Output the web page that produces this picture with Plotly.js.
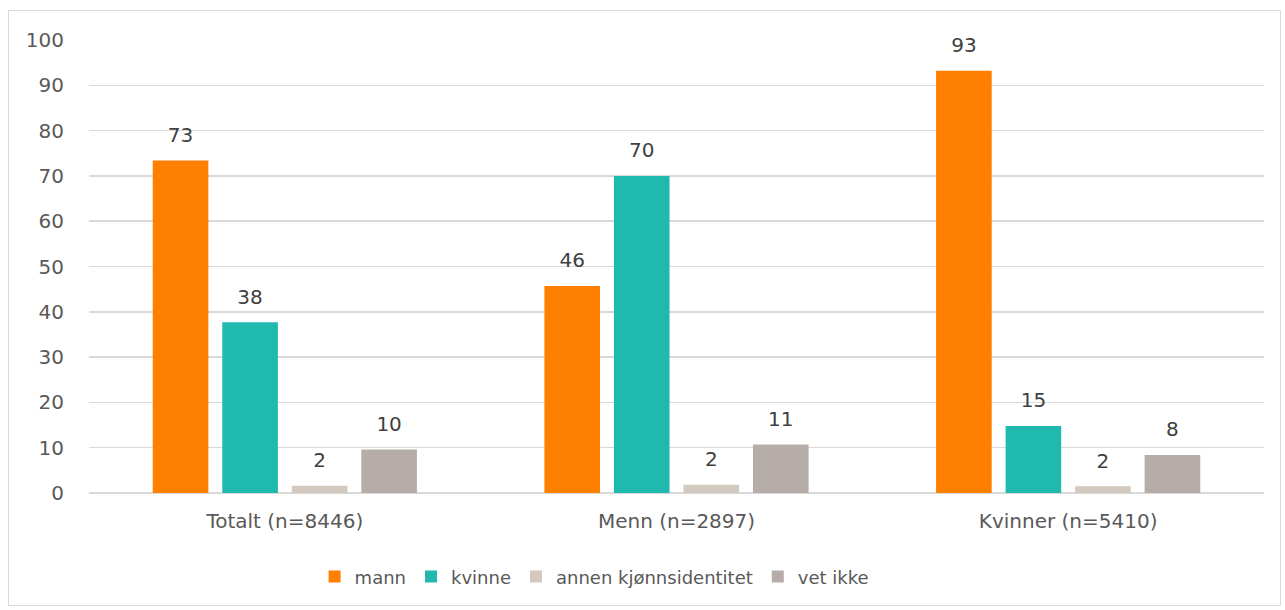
<!DOCTYPE html>
<html>
<head>
<meta charset="utf-8">
<script src="https://cdn.plot.ly/plotly-3.0.1.min.js"></script>
<style>
  html, body { margin: 0; padding: 0; background: #fff; }
  #wrap { position: relative; width: 1285px; height: 610px; }
  #chart { width: 1285px; height: 610px; }
  #frame { position: absolute; left: 8px; top: 10px; width: 1273px; height: 596px;
           border: 1.5px solid #d9d9d9; pointer-events: none; box-sizing: border-box; }
</style>
</head>
<body>
<div id="wrap">
  <div id="chart"></div>
  <div id="frame"></div>
</div>
<script>
const categories = ["Totalt (n=8446)", "Menn (n=2897)", "Kvinner (n=5410)"];
const seriesNames = ["mann", "kvinne", "annen kjønnsidentitet", "vet ikke"];
const mann = [73.4, 45.7, 93.2];
const kvinne = [37.7, 70.0, 14.8];
const annen = [1.6, 1.8, 1.5];
const vetIkke = [9.6, 10.7, 8.4];
const labelsMann = ["73", "46", "93"];
const labelsKvinne = ["38", "70", "15"];
const labelsAnnen = ["2", "2", "2"];
const labelsVetIkke = ["10", "11", "8"];
const yTicks = [0, 10, 20, 30, 40, 50, 60, 70, 80, 90, 100];

const colors = ["#FF7F00", "#20B9AD", "#D3C9BE", "#B6ADA8"];
const values = [mann, kvinne, annen, vetIkke];
const labels = [labelsMann, labelsKvinne, labelsAnnen, labelsVetIkke];
const FONT = "'DejaVu Sans', sans-serif";
const GAP = 0.29;

const barTraces = seriesNames.map((name, i) => ({
  type: "bar",
  name: name,
  x: categories,
  y: values[i],
  offsetgroup: String(i),
  marker: { color: colors[i], line: { width: 0 } },
  hoverinfo: "x+y+name"
}));

const labelTraces = seriesNames.map((name, i) => ({
  type: "scatter",
  mode: "markers+text",
  name: name + " label",
  showlegend: false,
  x: categories,
  y: values[i],
  offsetgroup: String(i),
  text: labels[i],
  textposition: "top center",
  cliponaxis: false,
  textfont: { family: FONT, size: 20, color: "#404040" },
  marker: { size: 20, color: "rgba(0,0,0,0)" },
  hoverinfo: "skip"
}));

const layout = {
  width: 1285,
  height: 610,
  margin: { l: 88.5, r: 20.5, t: 40, b: 117 },
  paper_bgcolor: "#ffffff",
  plot_bgcolor: "#ffffff",
  barmode: "group",
  bargap: GAP,
  bargroupgap: 0.2,
  scattermode: "group",
  scattergap: GAP,
  font: { family: FONT, size: 20, color: "#595959" },
  xaxis: {
    type: "category",
    showgrid: false,
    zeroline: false,
    showline: false,
    ticks: "outside",
    ticklen: 10,
    tickcolor: "rgba(0,0,0,0)",
    tickfont: { family: FONT, size: 20, color: "#595959" }
  },
  yaxis: {
    range: [0, 100],
    tickvals: yTicks,
    ticktext: yTicks.map(String),
    showgrid: true,
    gridcolor: "#d9d9d9",
    gridwidth: 1.5,
    zeroline: true,
    zerolinecolor: "#d9d9d9",
    zerolinewidth: 1.5,
    showline: false,
    ticks: "outside",
    ticklen: 20,
    tickcolor: "rgba(0,0,0,0)",
    tickfont: { family: FONT, size: 20, color: "#595959" },
    fixedrange: true
  },
  legend: {
    orientation: "h",
    x: 0.192,
    xanchor: "left",
    y: -0.185,
    yanchor: "middle",
    font: { family: FONT, size: 18, color: "#595959" },
    itemwidth: 30,
    traceorder: "normal"
  },
  showlegend: true
};

Plotly.newPlot("chart", barTraces.concat(labelTraces), layout, { displayModeBar: false, staticPlot: true });
</script>
</body>
</html>
